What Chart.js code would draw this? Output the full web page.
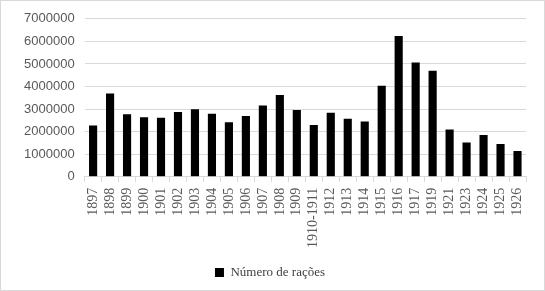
<!DOCTYPE html>
<html>
<head>
<meta charset="utf-8">
<script src="https://cdn.jsdelivr.net/npm/chart.js@4"></script>
<style>
    body { margin: 0; background: white; }
    #wrap { width: 545px; height: 291px; box-sizing: border-box; border: 1px solid #d9d9d9; }
</style>
</head>
<body>
<div id="wrap"><canvas id="racoesChart" width="543" height="289"></canvas></div>
<script>
// Anos (categorias)
const years = ['1897', '1898', '1899', '1900', '1901', '1902', '1903', '1904', '1905', '1906',
    '1907', '1908', '1909', '1910-1911', '1912', '1913', '1914', '1915', '1916', '1917',
    '1919', '1921', '1923', '1924', '1925', '1926'];

// Número de rações
const racoes = [2280000, 3690000, 2770000, 2640000, 2620000, 2870000, 2990000, 2800000, 2420000, 2700000,
    3160000, 3620000, 2960000, 2300000, 2840000, 2570000, 2450000, 4040000, 6240000, 5060000,
    4700000, 2100000, 1520000, 1850000, 1460000, 1150000];

const yTicks = [0, 1000000, 2000000, 3000000, 4000000, 5000000, 6000000, 7000000];

const ctx = document.getElementById('racoesChart').getContext('2d');

const racoesChart = new Chart(ctx, {
    type: 'bar',
    data: {
        labels: years,
        datasets: [{
            label: 'Número de rações',
            data: racoes,
            backgroundColor: '#000000',
            borderWidth: 0,
            categoryPercentage: 1,
            barPercentage: 0.48
        }]
    },
    options: {
        responsive: false,
        animation: false,
        layout: {
            padding: { top: 5, right: 18, left: 13, bottom: 1 }
        },
        scales: {
            y: {
                min: 0,
                max: 7000000,
                afterBuildTicks: function (axis) {
                    axis.ticks = yTicks.map(v => ({ value: v }));
                },
                border: { display: false },
                grid: {
                    color: '#d9d9d9',
                    drawTicks: false
                },
                ticks: {
                    color: '#595959',
                    padding: 10,
                    font: { family: 'Liberation Sans', size: 13 },
                    callback: function (value) {
                        return String(value);
                    }
                }
            },
            x: {
                border: { display: true, color: '#d9d9d9' },
                grid: {
                    color: '#d9d9d9',
                    drawOnChartArea: false,
                    tickLength: 5,
                    offset: true
                },
                ticks: {
                    color: '#595959',
                    minRotation: 90,
                    maxRotation: 90,
                    autoSkip: false,
                    padding: 6,
                    font: { family: 'Liberation Serif', size: 14 }
                },
                afterFit: function (axis) {
                    axis.height += 2;
                }
            }
        },
        plugins: {
            legend: {
                position: 'bottom',
                labels: {
                    boxWidth: 9,
                    boxHeight: 9,
                    color: '#404040',
                    padding: 10,
                    font: { family: 'Liberation Serif', size: 13 }
                }
            },
            tooltip: { enabled: false }
        }
    }
});
</script>
</body>
</html>
